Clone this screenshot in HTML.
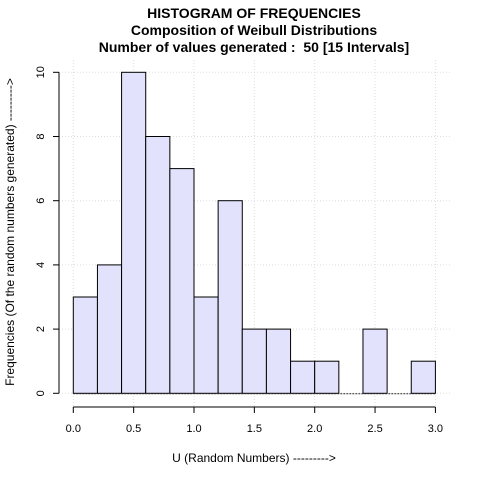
<!DOCTYPE html>
<html><head><meta charset="utf-8"><style>
body{margin:0;background:#fff}
svg text{font-family:"Liberation Sans",sans-serif;fill:#000}
</style></head><body>
<svg id="c" width="480" height="480" xmlns="http://www.w3.org/2000/svg">
<text x="254" y="18" font-size="14" font-weight="bold" text-anchor="middle">HISTOGRAM OF FREQUENCIES</text>
<text x="254" y="35" font-size="14" font-weight="bold" text-anchor="middle">Composition of Weibull Distributions</text>
<text x="254" y="52" font-size="14" font-weight="bold" text-anchor="middle">Number of values generated :&#160; 50 [15 Intervals]</text>
<text x="254" y="462" font-size="12" text-anchor="middle">U (Random Numbers) ---------&gt;</text>
<text transform="translate(14,232) rotate(-90)" font-size="12" text-anchor="middle">Frequencies (Of the random numbers generated) ---------&gt;</text>
<g id="grid"></g><g id="bars"></g><g id="axes"></g>
</svg>
<script>
const binStarts=[0,0.2,0.4,0.6,0.8,1.0,1.2,1.4,1.6,1.8,2.0,2.2,2.4,2.6,2.8];
const counts=[3,4,10,8,7,3,6,2,2,1,1,0,2,0,1];
const xTicks=["0.0","0.5","1.0","1.5","2.0","2.5","3.0"];
const yTicks=[0,2,4,6,8,10];
const binWidth=0.2;
const NS="http://www.w3.org/2000/svg";
const X=v=>73.3+v*120.7, Y=v=>393.3-v*32.1;
function mk(tag,attrs,parent,text){const e=document.createElementNS(NS,tag);for(const k in attrs)e.setAttribute(k,attrs[k]);if(text!==undefined)e.textContent=text;parent.appendChild(e);return e;}
const g=document.getElementById('grid'),b=document.getElementById('bars'),a=document.getElementById('axes');
xTicks.forEach(t=>{const e=mk('line',{x1:X(+t),x2:X(+t),y1:60,y2:407,stroke:'#ddd','stroke-dasharray':'1,2'},g);

});
yTicks.forEach(t=>{const e=mk('line',{x1:59,x2:451,y1:Y(t),y2:Y(t),stroke:'#ddd','stroke-dasharray':'1,2'},g);

});
binStarts.forEach((s,i)=>{const c=counts[i];const x0=X(s),x1=X(s+binWidth);
const r=mk('rect',{x:x0,y:Y(c),width:x1-x0,height:Y(0)-Y(c),fill:'#e2e2fd',stroke:c>0?'#000':'none','stroke-width':1},b);

});
mk('line',{x1:X(0),x2:X(3),y1:Y(0)+0.5,y2:Y(0)+0.5,stroke:'#333','stroke-dasharray':'2,1'},a);
mk('line',{x1:X(0),x2:X(3),y1:407,y2:407,stroke:'#000'},a);
xTicks.forEach(t=>{mk('line',{x1:X(+t),x2:X(+t),y1:407,y2:413,stroke:'#000'},a);
const e=mk('text',{x:X(+t),y:432,'font-size':11,'text-anchor':'middle'},a,t);

});
mk('line',{x1:59,x2:59,y1:Y(0),y2:Y(10),stroke:'#000'},a);
yTicks.forEach(t=>{mk('line',{x1:53,x2:59,y1:Y(t),y2:Y(t),stroke:'#000'},a);
const e=mk('text',{transform:`translate(44,${Y(t)}) rotate(-90)`,'font-size':11,'text-anchor':'middle'},a,String(t));

});
</script>
</body></html>
